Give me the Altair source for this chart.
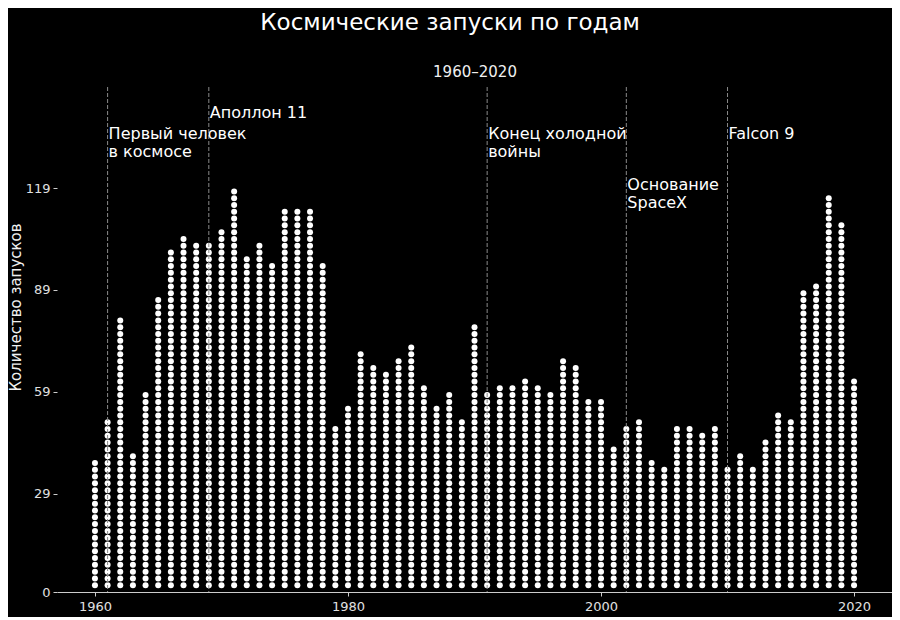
import altair as alt
import pandas as pd

# ---- data ----
years = list(range(1960, 2021))
launches = [38, 50, 80, 40, 58, 86, 100, 104, 102, 102, 106, 119, 98, 102, 96,
            112, 112, 112, 96, 48, 54, 70, 66, 64, 68, 72, 60, 54, 58, 50, 78,
            58, 60, 60, 62, 60, 58, 68, 66, 56, 56, 42, 48, 50, 38, 36,
            48, 48, 46, 48, 36, 40, 36, 44, 52, 50, 88, 90, 116, 108, 62]
dot_unit = 2  # launches per dot

event_years = [1961, 1969, 1991, 2002, 2010]
event_labels = [["Первый человек", "в космосе"], ["Аполлон 11"],
                ["Конец холодной", "войны"], ["Основание", "SpaceX"], ["Falcon 9"]]
event_label_y = [133.5, 139.6, 133.5, 118.4, 133.5]

y_ticks = [0, 29, 59, 89, 119]
x_ticks = [1960, 1980, 2000, 2020]

# ---- tables ----
dots = pd.DataFrame(
    [{"year": yr, "v": dot_unit * k}
     for yr, n in zip(years, launches)
     for k in range(1, n // dot_unit + 1)]
)
events = pd.DataFrame({"year": event_years, "label": event_labels, "ty": event_label_y})

FONT = "DejaVu Sans"
LABEL = "#e0e0e0"
TICK = "#cccccc"
xscale = alt.Scale(domain=[1957, 2023], nice=False, zero=False)
yscale = alt.Scale(domain=[0, 148.75], nice=False, zero=True)

y_axis = alt.Axis(values=y_ticks, title="Количество запусков", grid=False,
                  domain=False, ticks=True, tickSize=4, tickColor=TICK,
                  labels=True, labelPadding=3, labelFontSize=13, labelColor=LABEL,
                  labelFont=FONT, titlePadding=2, titleFontSize=15, titleFont=FONT,
                  titleColor="#f0f0f0", titleFontWeight="normal", orient="left",
                  titleY=220)

x_axis = alt.Axis(values=x_ticks, format="d", title=None, orient="bottom",
                  grid=False, tickSize=4, tickColor=TICK, domainColor=TICK,
                  labelPadding=4, labelFontSize=13, labelColor=LABEL, labelFont=FONT,
                  labelFlush=False)

dot_layer = alt.Chart(dots).mark_circle(color="white", opacity=1, size=36).encode(
    x=alt.X("year:Q", scale=xscale, axis=x_axis),
    y=alt.Y("v:Q", scale=yscale, axis=y_axis),
)

rule_layer = alt.Chart(events).mark_rule(
    color="#8a8a8a", strokeDash=[4, 2], strokeWidth=1
).encode(x=alt.X("year:Q", scale=xscale, axis=None))

text_layer = alt.Chart(events).mark_text(
    align="left", baseline="alphabetic", fontSize=16, lineHeight=18,
    color="white", font=FONT, dx=1
).encode(
    x=alt.X("year:Q", scale=xscale,
            axis=alt.Axis(orient="top", title="1960–2020", labels=False, ticks=False,
                          domain=False, grid=False, titlePadding=8, titleFontSize=15,
                          titleFont=FONT, titleColor="#f0f0f0",
                          titleFontWeight="normal")),
    y=alt.Y("ty:Q", scale=yscale, axis=y_axis),
    text="label",
)

chart = alt.layer(dot_layer, rule_layer, text_layer).properties(
    width=835, height=505,
    autosize=alt.AutoSizeParams(type="none"),
    padding={"left": 49, "top": 79, "right": 0, "bottom": 25},
    title=alt.Title("Космические запуски по годам", anchor="middle", frame="bounds",
                    fontSize=23, fontWeight="normal", color="white", font=FONT, offset=29),
    background="black",
).configure_view(stroke=None).configure_axisBottom(
    labelFontSize=13, labelFont=FONT, labelColor=LABEL
)

chart.save("out.html", embed_options={"renderer": "svg", "actions": False})
